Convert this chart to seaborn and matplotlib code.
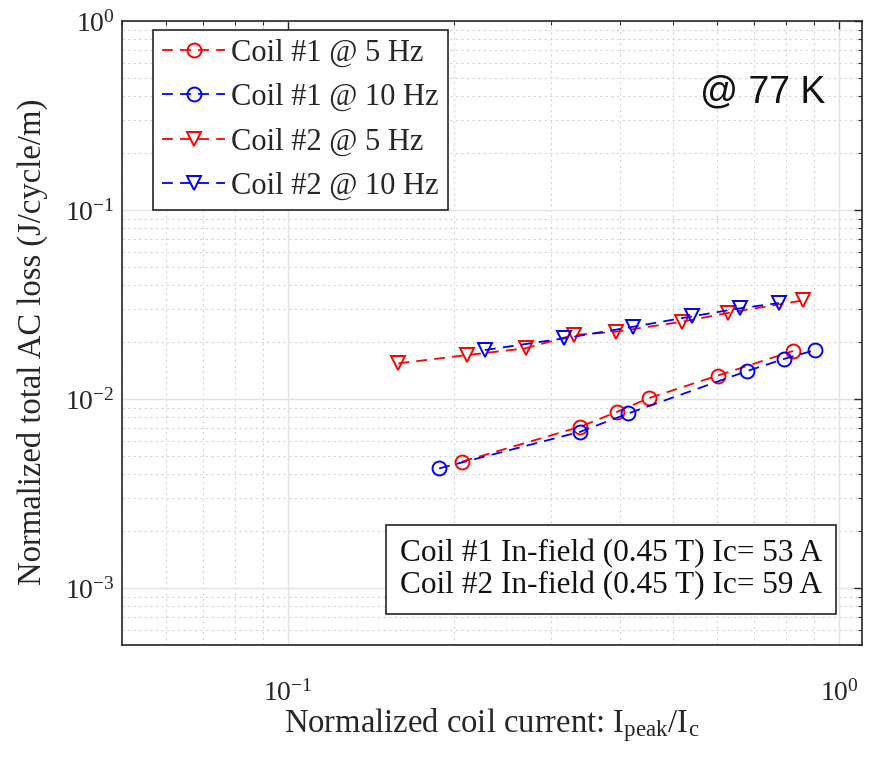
import numpy as np
import pandas as pd
import matplotlib
matplotlib.use("Agg")
import matplotlib.pyplot as plt
import seaborn as sns
from matplotlib.ticker import LogLocator, NullFormatter, FixedLocator

# Normalized current Ipeak/Ic and normalized total AC loss (J/cycle/m)
coil1_5hz_x = [0.2066, 0.3389, 0.3955, 0.4519, 0.6018, 0.8241]
coil1_5hz_y = [0.004659, 0.007135, 0.008566, 0.01012, 0.01331, 0.01795]

coil1_10hz_x = [0.1881, 0.3389, 0.4146, 0.6800, 0.7932, 0.9046]
coil1_10hz_y = [0.004298, 0.006714, 0.008400, 0.01406, 0.01628, 0.01817]

coil2_5hz_x = [0.1586, 0.2113, 0.2698, 0.3297, 0.3929, 0.5184, 0.6297, 0.8603]
coil2_5hz_y = [0.01545, 0.01709, 0.01855, 0.02181, 0.02270, 0.02564, 0.02858, 0.03329]

coil2_10hz_x = [0.2278, 0.3173, 0.4233, 0.5404, 0.6604, 0.7771]
coil2_10hz_y = [0.01817, 0.02096, 0.02413, 0.02739, 0.03020, 0.03221]

series_labels = ["Coil #1 @ 5 Hz", "Coil #1 @ 10 Hz", "Coil #2 @ 5 Hz", "Coil #2 @ 10 Hz"]
series_colors = ["#ff0000", "#0000ff", "#ff0000", "#0000ff"]
series_markers = ["o", "o", "v", "v"]

info_lines = ["Coil #1 In-field (0.45 T) Ic= 53 A",
              "Coil #2 In-field (0.45 T) Ic= 59 A"]
temp_label = "@ 77 K"

sns.set_style("white")
serif = ["Liberation Serif", "DejaVu Serif"]
plt.rcParams["font.family"] = serif
plt.rcParams["mathtext.fontset"] = "custom"
plt.rcParams["mathtext.rm"] = "Liberation Serif"
plt.rcParams["mathtext.it"] = "Liberation Serif:italic"
plt.rcParams["mathtext.bf"] = "Liberation Serif:bold"

fig = plt.figure(figsize=(8.74, 7.62), dpi=100)
ax = fig.add_axes([122 / 874, 1 - 645 / 762, (862 - 122) / 874, (645 - 21) / 762])
ax.set_xscale("log")
ax.set_yscale("log")

data = [(coil1_5hz_x, coil1_5hz_y), (coil1_10hz_x, coil1_10hz_y),
        (coil2_5hz_x, coil2_5hz_y), (coil2_10hz_x, coil2_10hz_y)]

for (xs, ys), lab, col, mk in zip(data, series_labels, series_colors, series_markers):
    df = pd.DataFrame({"x": xs, "y": ys})
    sns.lineplot(data=df, x="x", y="y", ax=ax, color=col, marker=mk,
                 linestyle=(0, (6, 4)), linewidth=1.3, markersize=10,
                 markerfacecolor="none", markeredgecolor=col, markeredgewidth=1.4,
                 label=lab, sort=False, estimator=None, zorder=3)

ax.set_xlim(0.05, 1.1)
ax.set_ylim(5e-4, 1)

ax.xaxis.set_major_locator(FixedLocator([0.1, 1.0]))
ax.xaxis.set_minor_locator(LogLocator(base=10, subs=np.arange(2, 10)))
ax.xaxis.set_minor_formatter(NullFormatter())
ax.yaxis.set_major_locator(LogLocator(base=10, numticks=10))
ax.yaxis.set_minor_locator(LogLocator(base=10, subs=np.arange(2, 10), numticks=10))
ax.yaxis.set_minor_formatter(NullFormatter())

ax.grid(True, which="major", color="#e2e2e2", linestyle="-", linewidth=1.0, zorder=0)
ax.grid(True, which="minor", color="#d4d4d4", linestyle=(0, (2, 3)), linewidth=0.8, zorder=0)
ax.set_axisbelow(True)

ax.tick_params(which="both", direction="in", top=True, right=True,
               colors="#262626", labelcolor="#262626")
ax.tick_params(which="major", length=6, width=1.0, labelsize=20)
ax.tick_params(axis="x", which="major", pad=25)
ax.tick_params(axis="y", which="major", pad=5)
ax.tick_params(which="minor", length=3, width=0.8)
for sp in ax.spines.values():
    sp.set_color("#262626")
    sp.set_linewidth(1.2)

ax.set_xlabel(r"Normalized coil current: I$_{\mathrm{peak}}$/I$_{\mathrm{c}}$",
              fontsize=23.5, labelpad=0, color="#262626")
ax.set_ylabel("Normalized total AC loss (J/cycle/m)", fontsize=23.5, color="#262626")
ax.yaxis.set_label_coords(-0.1, 0.486)

leg = ax.legend(loc="upper left", bbox_to_anchor=(0.042, 0.986), fontsize=22,
                frameon=True, fancybox=False, edgecolor="#262626", framealpha=1,
                handlelength=2.05, handletextpad=0.2, borderpad=0.3, labelspacing=0.5,
                borderaxespad=0)
leg.get_frame().set_linewidth(1.2)

ax.text(0.95, 0.886, temp_label, transform=ax.transAxes, ha="right", va="center",
        fontsize=27, family=["Liberation Sans", "DejaVu Sans"], color="#111111")

ax.text(0.376, 0.072, "\n".join(info_lines), transform=ax.transAxes, ha="left",
        va="bottom", fontsize=22.5, linespacing=1.1, color="#111111",
        bbox=dict(boxstyle="square,pad=0.45", facecolor="white", edgecolor="#262626",
                  linewidth=1.2))

fig.savefig("out.png", dpi=100, facecolor="white")
